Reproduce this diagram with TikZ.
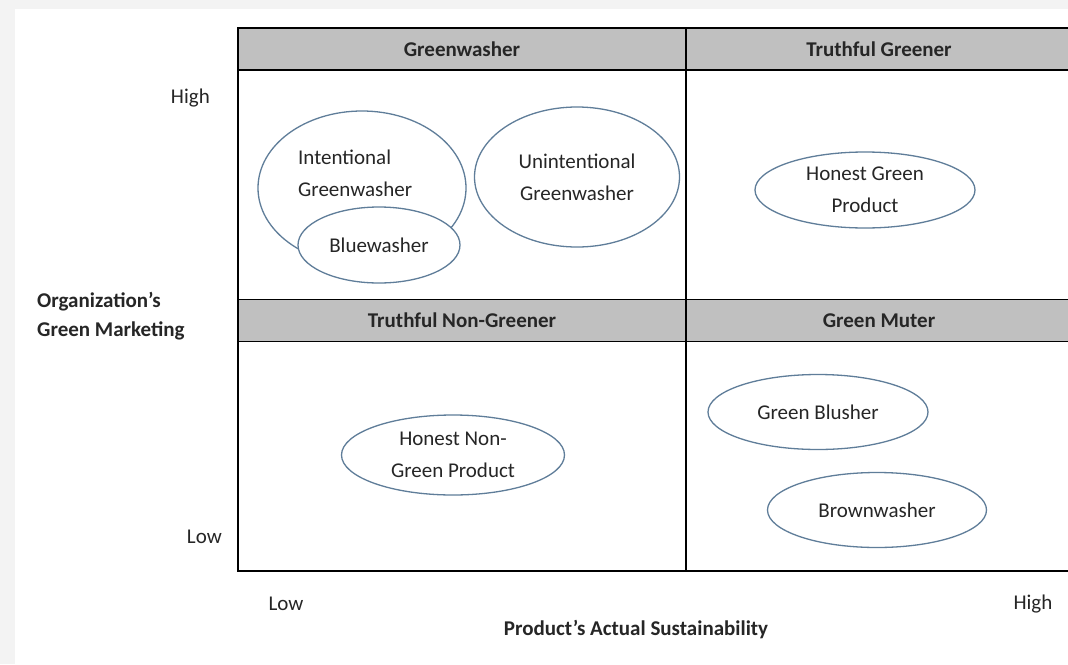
\documentclass[tikz,border=0pt]{standalone}
\usepackage{fontspec}
\setmainfont{Carlito}
\usetikzlibrary{shapes.geometric}
\definecolor{pagegray}{HTML}{F3F3F3}
\definecolor{headgray}{HTML}{C0C0C0}
\definecolor{ovalblue}{HTML}{5F7D99}
\definecolor{inkgray}{HTML}{262626}
\begin{document}
\begin{tikzpicture}[x=1pt,y=-1pt,
    every node/.style={font=\fontsize{21}{32}\selectfont, text=inkgray},
    head/.style={draw=black, line width=1.6pt, fill=headgray, minimum height=42pt,
      font=\fontsize{21}{25}\selectfont\bfseries},
    oval/.style={ellipse, draw=ovalblue, line width=1.3pt, fill=white, inner sep=0pt, align=center},
    lbl/.style={inner sep=0pt}]
  \clip (0,0) rectangle (1068,664);
  \fill[pagegray] (0,0) rectangle (1068,664);
  \fill[white] (15,9) rectangle (1068,664);

  % quadrant frames
  \draw[line width=1.6pt] (238,28) rectangle (1072,571);
  \draw[line width=1.6pt] (686,28) -- (686,571);

  % quadrant headers
  \node[head, minimum width=448pt] (gwash) at (462,49) {Greenwasher};
  \node[head, minimum width=386pt] (tgreen) at (879,49) {Truthful Greener};
  \node[head, minimum width=448pt] (tnon) at (462,320.5) {Truthful Non-Greener};
  \node[head, minimum width=386pt] (gmute) at (879,320.5) {Green Muter};

  % axis labels
  \node[lbl, anchor=east] (yhigh) at (210,98) {High};
  \node[lbl, anchor=east] (ylow) at (222,537) {Low};
  \node[lbl, anchor=west, align=left, font=\fontsize{21}{29}\selectfont\bfseries] (ylab) at (37,316)
    {Organization’s\\Green Marketing};
  \node[lbl] (xlow) at (286,604) {Low};
  \node[lbl] (xhigh) at (1033,604) {High};
  \node[lbl, font=\fontsize{21}{25}\selectfont\bfseries] (xlab) at (636,630) {Product’s Actual Sustainability};

  % greenwasher quadrant
  \node[oval, minimum width=208pt, minimum height=154pt] (intent) at (362,188) {};
  \node[lbl, anchor=west, align=left] (intenttext) at (298,173) {Intentional\\Greenwasher};
  \node[oval, minimum width=162pt, minimum height=76pt] (blue) at (379,245) {Bluewasher};
  \node[oval, minimum width=205pt, minimum height=140pt] (unint) at (577,177) {Unintentional\\Greenwasher};

  % truthful greener
  \node[oval, minimum width=220pt, minimum height=76pt] (honest) at (865,190) {Honest Green\\Product};

  % truthful non-greener
  \node[oval, minimum width=223pt, minimum height=80pt] (nongreen) at (453,455) {Honest Non-\\Green Product};

  % green muter
  \node[oval, minimum width=220pt, minimum height=75pt] (blusher) at (818,412) {Green Blusher};
  \node[oval, minimum width=219pt, minimum height=75pt] (brown) at (877,510) {Brownwasher};
\end{tikzpicture}
\end{document}
